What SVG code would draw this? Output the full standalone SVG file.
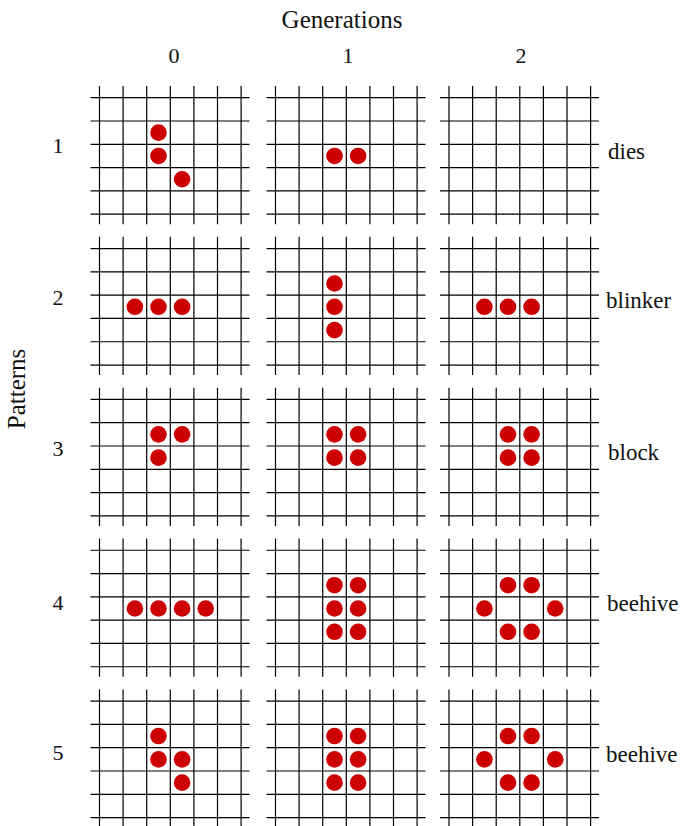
<svg xmlns="http://www.w3.org/2000/svg" xmlns:xlink="http://www.w3.org/1999/xlink" width="681" height="826" viewBox="0 0 681 826">
<style>
.ln{stroke:#000;stroke-width:1.2;fill:none}
.c{fill:#cc0000}
.t{font-family:"Liberation Serif","Times New Roman",serif;fill:#111}
.big{font-size:25px}
.num{font-size:22px}
.lab{font-size:23px}
</style>
<defs>
<g id="grid" class="ln">
<path d="M0,-11.7V126.5M23.6,-11.7V126.5M47.2,-11.7V126.5M70.8,-11.7V126.5M94.4,-11.7V126.5M118,-11.7V126.5M141.6,-11.7V126.5"/>
<path d="M-9,0H150M-9,23.3H150M-9,46.6H150M-9,69.9H150M-9,93.2H150M-9,116.5H150"/>
</g>
<circle id="d" r="8.3" class="c"/>
</defs>
<rect width="681" height="826" fill="#fff"/>
<g id="titles" class="t">
<text class="big" x="342" y="28" text-anchor="middle">Generations</text>
<text class="num" x="174" y="63" text-anchor="middle">0</text>
<text class="num" x="348" y="63" text-anchor="middle">1</text>
<text class="num" x="521" y="63" text-anchor="middle">2</text>
<text class="big" transform="translate(25,389) rotate(-90)" text-anchor="middle">Patterns</text>
<text class="num" x="58" y="153" text-anchor="middle">1</text>
<text class="num" x="58" y="305" text-anchor="middle">2</text>
<text class="num" x="58" y="456" text-anchor="middle">3</text>
<text class="num" x="58" y="610" text-anchor="middle">4</text>
<text class="num" x="58" y="760" text-anchor="middle">5</text>
<text class="lab" x="608" y="159">dies</text>
<text class="lab" x="606" y="308">blinker</text>
<text class="lab" x="608" y="460">block</text>
<text class="lab" x="607" y="611">beehive</text>
<text class="lab" x="606" y="762">beehive</text>
</g>
<g id="connectors"></g>
<!-- row 1 -->
<g id="p1g0" transform="translate(99.5,97.7)"><use xlink:href="#grid"/>
<use xlink:href="#d" x="59" y="34.95"/><use xlink:href="#d" x="59" y="58.25"/><use xlink:href="#d" x="82.6" y="81.55"/></g>
<g id="p1g1" transform="translate(275.5,97.7)"><use xlink:href="#grid"/>
<use xlink:href="#d" x="59" y="58.25"/><use xlink:href="#d" x="82.6" y="58.25"/></g>
<g id="p1g2" transform="translate(449,97.7)"><use xlink:href="#grid"/></g>
<!-- row 2 -->
<g id="p2g0" transform="translate(99.5,248.55)"><use xlink:href="#grid"/>
<use xlink:href="#d" x="35.4" y="58.25"/><use xlink:href="#d" x="59" y="58.25"/><use xlink:href="#d" x="82.6" y="58.25"/></g>
<g id="p2g1" transform="translate(275.5,248.55)"><use xlink:href="#grid"/>
<use xlink:href="#d" x="59" y="34.95"/><use xlink:href="#d" x="59" y="58.25"/><use xlink:href="#d" x="59" y="81.55"/></g>
<g id="p2g2" transform="translate(449,248.55)"><use xlink:href="#grid"/>
<use xlink:href="#d" x="35.4" y="58.25"/><use xlink:href="#d" x="59" y="58.25"/><use xlink:href="#d" x="82.6" y="58.25"/></g>
<!-- row 3 -->
<g id="p3g0" transform="translate(99.5,399.4)"><use xlink:href="#grid"/>
<use xlink:href="#d" x="59" y="34.95"/><use xlink:href="#d" x="82.6" y="34.95"/><use xlink:href="#d" x="59" y="58.25"/></g>
<g id="p3g1" transform="translate(275.5,399.4)"><use xlink:href="#grid"/>
<use xlink:href="#d" x="59" y="34.95"/><use xlink:href="#d" x="82.6" y="34.95"/><use xlink:href="#d" x="59" y="58.25"/><use xlink:href="#d" x="82.6" y="58.25"/></g>
<g id="p3g2" transform="translate(449,399.4)"><use xlink:href="#grid"/>
<use xlink:href="#d" x="59" y="34.95"/><use xlink:href="#d" x="82.6" y="34.95"/><use xlink:href="#d" x="59" y="58.25"/><use xlink:href="#d" x="82.6" y="58.25"/></g>
<!-- row 4 -->
<g id="p4g0" transform="translate(99.5,550.25)"><use xlink:href="#grid"/>
<use xlink:href="#d" x="35.4" y="58.25"/><use xlink:href="#d" x="59" y="58.25"/><use xlink:href="#d" x="82.6" y="58.25"/><use xlink:href="#d" x="106.2" y="58.25"/></g>
<g id="p4g1" transform="translate(275.5,550.25)"><use xlink:href="#grid"/>
<use xlink:href="#d" x="59" y="34.95"/><use xlink:href="#d" x="82.6" y="34.95"/><use xlink:href="#d" x="59" y="58.25"/><use xlink:href="#d" x="82.6" y="58.25"/><use xlink:href="#d" x="59" y="81.55"/><use xlink:href="#d" x="82.6" y="81.55"/></g>
<g id="p4g2" transform="translate(449,550.25)"><use xlink:href="#grid"/>
<use xlink:href="#d" x="59" y="34.95"/><use xlink:href="#d" x="82.6" y="34.95"/><use xlink:href="#d" x="35.4" y="58.25"/><use xlink:href="#d" x="106.2" y="58.25"/><use xlink:href="#d" x="59" y="81.55"/><use xlink:href="#d" x="82.6" y="81.55"/></g>
<!-- row 5 -->
<g id="p5g0" transform="translate(99.5,701.1)"><use xlink:href="#grid"/>
<use xlink:href="#d" x="59" y="34.95"/><use xlink:href="#d" x="59" y="58.25"/><use xlink:href="#d" x="82.6" y="58.25"/><use xlink:href="#d" x="82.6" y="81.55"/></g>
<g id="p5g1" transform="translate(275.5,701.1)"><use xlink:href="#grid"/>
<use xlink:href="#d" x="59" y="34.95"/><use xlink:href="#d" x="82.6" y="34.95"/><use xlink:href="#d" x="59" y="58.25"/><use xlink:href="#d" x="82.6" y="58.25"/><use xlink:href="#d" x="59" y="81.55"/><use xlink:href="#d" x="82.6" y="81.55"/></g>
<g id="p5g2" transform="translate(449,701.1)"><use xlink:href="#grid"/>
<use xlink:href="#d" x="59" y="34.95"/><use xlink:href="#d" x="82.6" y="34.95"/><use xlink:href="#d" x="35.4" y="58.25"/><use xlink:href="#d" x="106.2" y="58.25"/><use xlink:href="#d" x="59" y="81.55"/><use xlink:href="#d" x="82.6" y="81.55"/></g>
</svg>
